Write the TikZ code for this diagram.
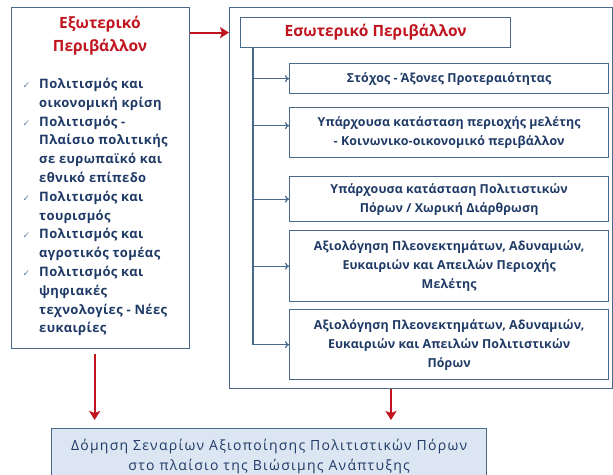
\documentclass[tikz,border=0pt]{standalone}
\usepackage{fontspec}
\setmainfont{Open Sans}
\newfontfamily\symfont{DejaVu Sans}
\usetikzlibrary{arrows.meta}
\definecolor{bord}{HTML}{4A6A8C}
\definecolor{txt}{HTML}{1F3A66}
\definecolor{redc}{HTML}{C0151F}
\definecolor{fillb}{HTML}{DCE6F2}
\definecolor{chkc}{HTML}{6A86A6}
\newcommand\chkm{\llap{\textcolor{chkc}{\symfont\fontsize{9}{9}\selectfont ✓}\hspace{9pt}}}
\begin{document}
\begin{tikzpicture}[x=1pt,y=-1pt,
  box/.style={draw=bord,line width=1.3pt,fill=white,inner sep=0pt,anchor=north west},
  body/.style={font=\bfseries\fontsize{12.4}{19}\selectfont\addfontfeature{LetterSpace=1},text=txt,align=center},
  title/.style={font=\bfseries\fontsize{15.5}{23}\selectfont,text=redc,align=center},
  conn/.style={draw=bord,line width=1.2pt,-{To[length=4pt,width=7pt]}},
  redarrow/.style={draw=redc,line width=2pt,-{Stealth[length=9pt,width=11pt,inset=2pt]}}
]
\clip (0,0) rectangle (613,474);
\fill[white] (0,0) rectangle (613,474);

% left box
\node[box,minimum width=178pt,minimum height=341pt] (ext) at (11,7) {};
\node[title,inner sep=0pt] (extt) at (100,36) {Εξωτερικό\\Περιβάλλον};
\node[anchor=north west,inner sep=0pt,align=left,font=\bfseries\fontsize{13}{18.8}\selectfont\addfontfeature{LetterSpace=3},text=txt] (items) at (39,78)
 {\chkm Πολιτισμός και\\ οικονομική κρίση\\ \chkm Πολιτισμός -\\ Πλαίσιο πολιτικής\\ σε ευρωπαϊκό και\\ εθνικό επίπεδο\\ \chkm Πολιτισμός και\\ τουρισμός\\ \chkm Πολιτισμός και\\ αγροτικός τομέας\\ \chkm Πολιτισμός και\\ ψηφιακές\\ τεχνολογίες - Νέες\\ ευκαιρίες};

% outer right box
\node[box,minimum width=383pt,minimum height=381pt] (outer) at (229,7) {};
\node[box,title,minimum width=270pt,minimum height=30pt] (hdr) at (240,17) {Εσωτερικό Περιβάλλον};

\node[box,body,minimum width=319pt,minimum height=30pt] (b1) at (289,63) {Στόχος - Άξονες Προτεραιότητας};
\node[box,body,minimum width=319pt,minimum height=50pt] (b2) at (289,107) {Υπάρχουσα κατάσταση περιοχής μελέτης\\- Κοινωνικο-οικονομικό περιβάλλον};
\node[box,body,minimum width=319pt,minimum height=45pt] (b3) at (289,176) {Υπάρχουσα κατάσταση Πολιτιστικών\\Πόρων / Χωρική Διάρθρωση};
\node[box,body,minimum width=319pt,minimum height=71pt] (b4) at (289,230) {Αξιολόγηση Πλεονεκτημάτων, Αδυναμιών,\\Ευκαιριών και Απειλών Περιοχής\\Μελέτης};
\node[box,body,minimum width=319pt,minimum height=70pt] (b5) at (289,309) {Αξιολόγηση Πλεονεκτημάτων, Αδυναμιών,\\Ευκαιριών και Απειλών Πολιτιστικών\\Πόρων};

\coordinate (v0) at (253,47);
\draw[conn] (v0) |- (b1.west);
\draw[conn] (v0) |- ([yshift=7pt]b2.west);
\draw[conn] (v0) |- (b3.west);
\draw[conn] (v0) |- (b4.west);
\draw[conn] (v0) |- (b5.west);

% bottom box
\node[box,fill=fillb,minimum width=435pt,minimum height=56pt,font=\fontsize{14}{20}\selectfont\addfontfeature{LetterSpace=9},text=txt,align=center] (bot) at (51,428)
 {Δόμηση Σεναρίων Αξιοποίησης Πολιτιστικών Πόρων\\στο πλαίσιο της Βιώσιμης Ανάπτυξης};

% red arrows
\draw[redarrow] (ext.east |- hdr.west) -- (outer.west |- hdr.west);
\draw[redarrow,shorten <=5pt,shorten >=8pt] ([xshift=-6pt]ext.south) -- ([xshift=-6pt]ext.south |- bot.north);
\coordinate (ra) at (391,388);
\draw[redarrow,shorten <=1pt,shorten >=8pt] (ra) -- (ra |- bot.north);
\end{tikzpicture}
\end{document}
